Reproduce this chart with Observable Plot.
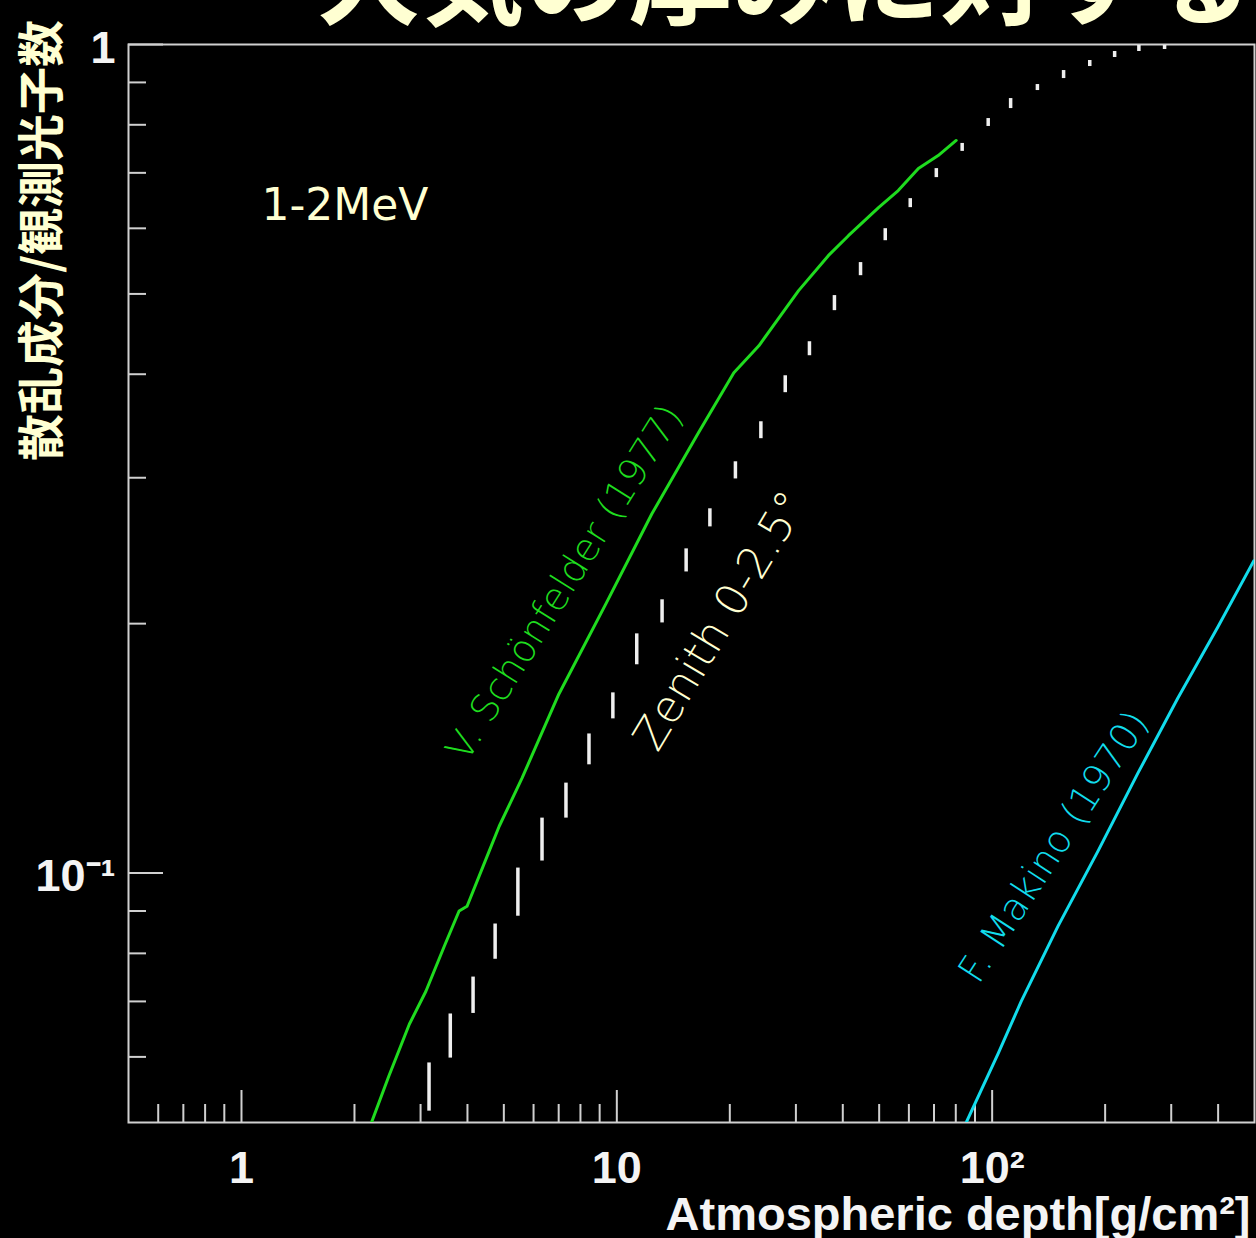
<!DOCTYPE html>
<html><head><meta charset="utf-8">
<script src="https://cdn.jsdelivr.net/npm/d3@7"></script>
<script src="https://cdn.jsdelivr.net/npm/@observablehq/plot@0.6"></script>
<style>html,body{margin:0;padding:0;background:#000;overflow:hidden}</style>
</head><body><div id="chart"></div>
<script>
// Measured points (Zenith 0-2.5°) with error bars
const depth = [3.16,3.60,4.14,4.74,5.45,6.32,7.32,8.43,9.76,11.3,13.2,15.3,17.7,20.7,24.2,28.1,32.6,38.0,44.6,51.9,60.5,71.0,83.2,97.6,112,132,155,182,212,246,288];
const ratio = [0.0551,0.0636,0.0712,0.0828,0.0949,0.1099,0.1222,0.1412,0.1591,0.1865,0.2073,0.2381,0.2684,0.3058,0.3419,0.3896,0.4294,0.4881,0.5364,0.5911,0.6444,0.6985,0.7513,0.8050,0.8487,0.8872,0.9199,0.9486,0.9726,0.9889,0.9917];
const ratioLow = [0.0516,0.0598,0.0677,0.0787,0.0887,0.1034,0.1165,0.1351,0.1535,0.1784,0.2004,0.2309,0.2617,0.2990,0.3344,0.3800,0.4211,0.4773,0.5260,0.5797,0.6355,0.6908,0.7430,0.7963,0.8369,0.8799,0.9097,0.9406,0.9645,0.9807,0.9862];
const ratioHigh = [0.0590,0.0676,0.0749,0.0868,0.1014,0.1165,0.1284,0.1472,0.1650,0.1944,0.2137,0.2462,0.2752,0.3136,0.3505,0.3983,0.4378,0.4977,0.5455,0.5994,0.6516,0.7083,0.7596,0.8140,0.8605,0.8947,0.9302,0.9565,0.9807,0.9972,0.9972];

// V. Schönfelder (1977)
const schonDepth = [2.22,2.47,2.80,3.10,3.47,3.80,3.99,4.57,4.86,5.59,7.01,9.35,12.4,16.5,20.5,23.9,30.5,36.6,41.4,49.8,56.2,63.6,71.8,80.2];
const schonRatio = [0.0500,0.0569,0.0657,0.0720,0.0816,0.0900,0.0912,0.1063,0.1139,0.1302,0.1645,0.2113,0.2714,0.3400,0.4017,0.4329,0.5046,0.5561,0.5878,0.6355,0.6664,0.7083,0.7344,0.7659];

// F. Makino (1970)
const makinoDepth = [85.3,103.8,119.5,149.8,191.4,244.5,312.5,399.3,497.7];
const makinoRatio = [0.0500,0.0606,0.0700,0.0863,0.1063,0.1320,0.1627,0.1982,0.2381];

const xMajor = [1, 10, 100];
const xTickLabels = ["1", "10", "10²"];
const xMinor = [0.6,0.7,0.8,0.9,2,3,4,5,6,7,8,9,20,30,40,50,60,70,80,90,200,300,400];
const yMajor = [0.1, 1];
const yTickLabels = ["10⁻¹", "1"];
const yMinor = [0.06,0.07,0.08,0.09,0.2,0.3,0.4,0.5,0.6,0.7,0.8,0.9];

const titleText = "大気の厚みに対する";
const yTitle = "散乱成分/観測光子数";
const xTitle = "Atmospheric depth[g/cm²]";
const energyLabel = "1-2MeV";
const schonLabel = "V. Schönfelder (1977)";
const zenithLabel = "Zenith 0-2.5°";
const makinoLabel = "F. Makino (1970)";

const points = depth.map((d, i) => ({depth: d, ratio: ratio[i], lo: ratioLow[i], hi: ratioHigh[i]}));
const schon = schonDepth.map((d, i) => ({depth: d, ratio: schonRatio[i]}));
const makino = makinoDepth.map((d, i) => ({depth: d, ratio: makinoRatio[i]}));
const xLab = new Map(xMajor.map((v, i) => [v, xTickLabels[i]]));
const yLab = new Map(yMajor.map((v, i) => [v, yTickLabels[i]]));

const cream = "#ffffd2";
const green = "#1fdc1f";
const cyan = "#12dcec";
const axisCol = "#d0d0d0";
const tickFont = {fontFamily: "'Liberation Sans', Arial, sans-serif", fontWeight: "bold", fontSize: 45, fill: "#f4f4f4"};
const thin = "'DejaVu Sans', sans-serif";

const chart = Plot.plot({
  width: 1256, height: 1238,
  marginLeft: 128, marginRight: 2, marginTop: 44, marginBottom: 116,
  style: {background: "#000", color: "#f4f4f4", overflow: "hidden"},
  x: {type: "log", domain: [0.5, 500], label: null},
  y: {type: "log", domain: [0.05, 1], label: null},
  marks: [
    Plot.frame({stroke: axisCol, strokeWidth: 2}),
    // inward ticks
    Plot.axisX({ticks: xMajor, tickSize: -32, tickFormat: () => "", stroke: axisCol, strokeWidth: 2}),
    Plot.axisX({ticks: xMinor, tickSize: -18, tickFormat: () => "", stroke: axisCol, strokeWidth: 2}),
    Plot.axisY({ticks: yMajor, tickSize: -35, tickFormat: () => "", stroke: axisCol, strokeWidth: 2}),
    Plot.axisY({ticks: yMinor, tickSize: -18, tickFormat: () => "", stroke: axisCol, strokeWidth: 2}),
    // tick labels
    Plot.axisX({ticks: xMajor, tickSize: 0, tickPadding: 29, tickFormat: d => xLab.get(d), ...tickFont}),
    Plot.axisY({ticks: yMajor, tickSize: 0, tickPadding: 13, tickFormat: d => yLab.get(d), dy: 4, ...tickFont}),
    // curves
    Plot.line(schon, {x: "depth", y: "ratio", stroke: green, strokeWidth: 3, clip: true}),
    Plot.line(makino, {x: "depth", y: "ratio", stroke: cyan, strokeWidth: 3, clip: true}),
    Plot.ruleX(points, {x: "depth", y1: "lo", y2: "hi", stroke: "#efefef", strokeWidth: 3.5, clip: true}),
    // annotations
    Plot.text([energyLabel], {x: 1.13, y: 0.639, text: d => d, textAnchor: "start", lineAnchor: "middle", fill: cream, fontSize: 44, fontFamily: thin}),
    Plot.text([schonLabel], {x: 7.27, y: 0.224, text: d => d, rotate: -58, fill: green, fontSize: 38, fontFamily: thin, fontWeight: 200}),
    Plot.text([zenithLabel], {x: 18.9, y: 0.2015, text: d => d, rotate: -59, fill: cream, fontSize: 44, fontFamily: thin, fontWeight: 200}),
    Plot.text([makinoLabel], {x: 146, y: 0.1075, text: d => d, rotate: -57, fill: cyan, fontSize: 38, fontFamily: thin, fontWeight: 200}),
    // titles
    Plot.text([xTitle], {frameAnchor: "bottom-right", dx: -4, dy: 107, text: d => d, textAnchor: "end", lineAnchor: "bottom", ...tickFont, fontSize: 47}),
    Plot.text([yTitle], {frameAnchor: "top-left", dx: -86, dy: 196, text: d => d, rotate: -90, textAnchor: "middle", lineAnchor: "middle", fill: cream, fontSize: 47, fontWeight: "bold", fontFamily: "'Noto Sans CJK JP', sans-serif"}),
    Plot.text([titleText], {frameAnchor: "top-left", dx: 188, dy: -28, text: d => d, textAnchor: "start", lineAnchor: "bottom", fill: cream, fontSize: 104, fontWeight: "bold", fontFamily: "'Noto Sans CJK JP', sans-serif"})
  ]
});
document.getElementById("chart").appendChild(chart);
</script>
</body></html>
